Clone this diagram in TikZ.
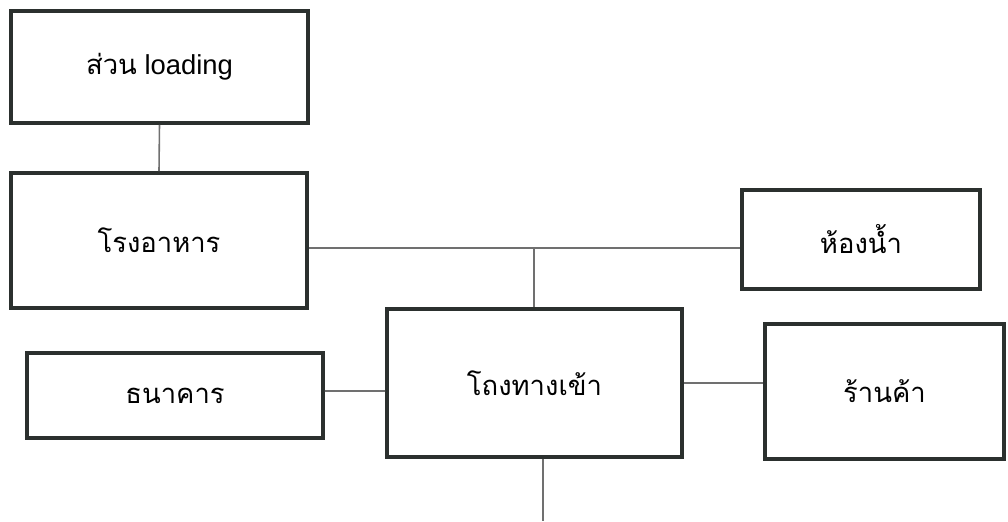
\documentclass[tikz,border=0pt]{standalone}
\usepackage{fontspec}
\setmainfont{Liberation Sans}
\newfontfamily\thaifont[Script=Thai]{Loma}
\usepackage{xcolor}

\definecolor{boxline}{HTML}{2B302E}
\definecolor{linkline}{HTML}{707070}

\tikzset{
	room/.style={draw=boxline, line width=2.2pt, rectangle, inner sep=0pt,
		font=\fontsize{15.6}{18}\selectfont},
	link/.style={draw=linkline, line width=0.9pt}
}

\begin{document}
\begin{tikzpicture}[scale=0.2]
	\useasboundingbox (0,0) rectangle (100.8,-52.1);
	% rooms
	\node [room, minimum width=5.94cm, minimum height=2.24cm] (load) at (15.95,-6.7) {{\thaifont ส่วน} loading};
	\node [room, minimum width=5.92cm, minimum height=2.70cm] (canteen) at (15.9,-24.05) {\thaifont โรงอาหาร};
	\node [room, minimum width=4.76cm, minimum height=1.98cm] (toilet) at (86.1,-23.95) {\thaifont ห้องน้ำ};
	\node [room, minimum width=5.92cm, minimum height=1.70cm] (bank) at (17.5,-39.55) {\thaifont ธนาคาร};
	\node [room, minimum width=5.90cm, minimum height=2.96cm] (hall) at (53.45,-38.3) {\thaifont โถงทางเข้า};
	\node [room, minimum width=4.78cm, minimum height=2.70cm] (shop) at (88.45,-39.15) {\thaifont ร้านค้า};
	% links
	\coordinate (j) at (53.4,-24.8);
	\coordinate (out) at (54.3,-52.1);
	\draw [link] (load.south) -- (canteen.north);
	\draw [link] (canteen.east |- j) -- (toilet.west |- j);
	\draw [link] (j) -- (hall.north -| j);
	\draw [link] (bank.east) ++(0,0.45) -- (hall.west |- 0,-39.1);
	\draw [link] (hall.east) -- (shop.west |- hall.east);
	\draw [link] (hall.south -| out) -- (out);
\end{tikzpicture}
\end{document}
